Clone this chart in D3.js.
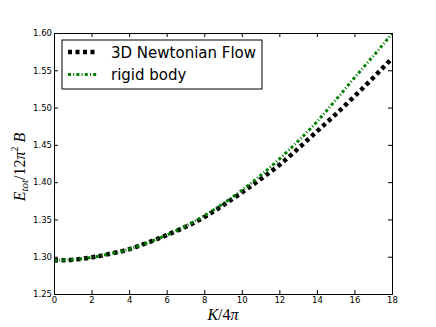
<!DOCTYPE html>
<html>
<head>
<meta charset="utf-8">
<script src="https://cdn.jsdelivr.net/npm/d3@7"></script>
<style>
  body { margin: 0; background: #fff; }
  text { font-family: "DejaVu Sans", sans-serif; }
</style>
</head>
<body>
<div id="container"></div>
<script>
// values
let kValues = [0, 1, 2, 3, 4, 5, 6, 7, 8, 9, 10, 11, 12, 13, 14, 15, 16, 17, 18];
let newtonian = [1.295, 1.296, 1.299, 1.304, 1.310, 1.319, 1.329, 1.340, 1.353, 1.369,
                 1.386, 1.404, 1.423, 1.445, 1.468, 1.491, 1.515, 1.540, 1.566];
let rigid = [1.295, 1.296, 1.299, 1.304, 1.310, 1.319, 1.329, 1.341, 1.355, 1.371,
             1.389, 1.409, 1.431, 1.455, 1.481, 1.510, 1.540, 1.569, 1.599];
let xTicks = [0, 2, 4, 6, 8, 10, 12, 14, 16, 18];
let yTicks = [1.25, 1.30, 1.35, 1.40, 1.45, 1.50, 1.55, 1.60];
let seriesNames = ["3D Newtonian Flow", "rigid body"];

let w = 436;
let h = 327;
let margin = {left: 54, right: 44, top: 33, bottom: 33};

let svg = d3.select("#container")
  .append("svg")
    .attr("width", w)
    .attr("height", h);

let x = d3.scaleLinear().domain([0, 18]).range([margin.left, w - margin.right]);
let y = d3.scaleLinear().domain([1.25, 1.60]).range([h - margin.bottom, margin.top]);

let plot = svg.append("g");

// clip to axes box
svg.append("clipPath").attr("id", "clip")
  .append("rect")
    .attr("x", x(0)).attr("y", y(1.60))
    .attr("width", x(18) - x(0)).attr("height", y(1.25) - y(1.60));

let line = d3.line().curve(d3.curveMonotoneX);

let styles = [
  {data: newtonian, color: "#000000", width: 4.5, dash: "4,3.5"},
  {data: rigid, color: "#008000", width: 3, dash: "3,2.2,1,2.2"}
];

styles.forEach(function(s) {
  plot.append("path")
    .attr("clip-path", "url(#clip)")
    .attr("d", line(kValues.map(function(k, i) { return [x(k), y(s.data[i])]; })))
    .attr("fill", "none")
    .attr("stroke", s.color)
    .attr("stroke-width", s.width)
    .attr("stroke-dasharray", s.dash);
});

// axes: ticks point inward, labels on bottom/left only
let xAxisB = d3.axisBottom(x).tickValues(xTicks).tickSize(-4).tickPadding(3).tickFormat(d3.format("d"));
let xAxisT = d3.axisTop(x).tickValues(xTicks).tickSize(-4).tickFormat("");
let yAxisL = d3.axisLeft(y).tickValues(yTicks).tickSize(-4).tickPadding(2).tickFormat(d3.format(".2f"));
let yAxisR = d3.axisRight(y).tickValues(yTicks).tickSize(-4).tickFormat("");

svg.append("g").attr("transform", "translate(0," + y(1.25) + ")").call(xAxisB);
svg.append("g").attr("transform", "translate(0," + y(1.60) + ")").call(xAxisT);
svg.append("g").attr("transform", "translate(" + x(0) + ",0)").call(yAxisL);
svg.append("g").attr("transform", "translate(" + x(18) + ",0)").call(yAxisR);

svg.selectAll(".domain").attr("stroke", "#000").attr("stroke-width", 1);
svg.selectAll(".tick line").attr("stroke", "#000");
svg.selectAll(".tick text").attr("font-size", "8.5px").attr("fill", "#000")
  .style("font-family", "DejaVu Sans, sans-serif");

// axis labels
let xl = svg.append("text")
    .attr("x", 223).attr("y", 320)
    .attr("text-anchor", "middle")
    .style("font-family", "Liberation Serif, serif")
    .attr("font-size", "16px");
xl.append("tspan").attr("font-style", "italic").text("K");
xl.append("tspan").text("/4");
xl.append("tspan").attr("font-style", "italic").text("π");

let yl = svg.append("text")
    .attr("transform", "translate(25,167) rotate(-90)")
    .attr("text-anchor", "middle")
    .style("font-family", "Liberation Serif, serif")
    .attr("font-size", "16px");
yl.append("tspan").attr("font-style", "italic").text("E");
yl.append("tspan").attr("font-style", "italic").attr("font-size", "11px").attr("dy", 3).text("tot");
yl.append("tspan").attr("dy", -3).text("/12");
yl.append("tspan").attr("font-style", "italic").text("π");
yl.append("tspan").attr("font-size", "10px").attr("dy", -7).text("2");
yl.append("tspan").attr("dy", 7).text(" ");
yl.append("tspan").attr("font-style", "italic").text("B");

// legend
let legend = svg.append("g");
legend.append("rect")
  .attr("x", 62).attr("y", 40).attr("width", 200).attr("height", 49)
  .attr("fill", "#fff").attr("stroke", "#000").attr("stroke-width", 1);

let legendRows = legend.selectAll(".row").data(styles).enter()
  .append("g")
    .attr("class", "row")
    .attr("transform", function(d, i) { return "translate(0," + (52 + i * 22.5) + ")"; });

legendRows.append("line")
  .attr("x1", 68).attr("x2", 98).attr("y1", 0).attr("y2", 0)
  .attr("stroke", function(d) { return d.color; })
  .attr("stroke-width", function(d) { return d.width; })
  .attr("stroke-dasharray", function(d) { return d.dash; });

legendRows.append("text")
  .attr("x", 111).attr("y", 5.5)
  .attr("font-size", "15px")
  .text(function(d, i) { return seriesNames[i]; });
</script>
</body>
</html>
